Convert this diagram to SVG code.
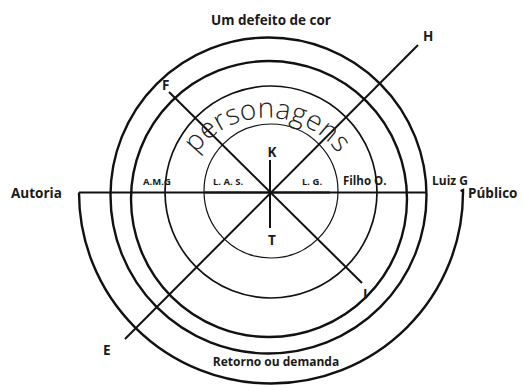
<svg xmlns="http://www.w3.org/2000/svg" width="524" height="385" viewBox="0 0 524 385">
<style>
.ring{fill:none;stroke:#111;stroke-width:2.4}
.thin{fill:none;stroke:#111;stroke-width:1.2}
.mid{fill:none;stroke:#111;stroke-width:1.7}
.ln{stroke:#111;stroke-width:2;fill:none}
.t{font-family:"Open Sans","Noto Sans","Liberation Sans",sans-serif;font-weight:700;fill:#1a1a1a}
.big{font-size:13.5px}
.sm{font-size:9.5px}
.md{font-size:11.5px}
.lt{font-size:12px}
.arc{font-family:"Open Sans","Noto Sans","Liberation Sans",sans-serif;font-weight:300;font-size:28px;fill:#222}
</style>
<defs>
<path id="pArc" d="M 180.3,190.7 A 88 88 0 0 1 353.7,190.7"/>
</defs>
<rect width="524" height="385" fill="#fff"/>
<g id="rings">
<path class="ring" d="M 79,192.5 A 192 191 0 0 0 463,192.5 L 463,190 L 460.5,191"/>
<circle class="ring" cx="268.5" cy="195.5" r="158"/>
<circle class="ring" cx="269" cy="199" r="138"/>
<circle class="mid" cx="271" cy="192" r="106"/>
<circle class="thin" cx="271" cy="191" r="67"/>
</g>
<g id="connectors">
<line class="ln" x1="79" y1="192.5" x2="427" y2="192.5"/>
<line class="ln" x1="205" y1="192.5" x2="330" y2="192.5" stroke-width="3"/>
<line class="ln" x1="169" y1="92" x2="362" y2="283"/>
<line class="ln" x1="418" y1="45" x2="125" y2="339"/>
<line class="ln" x1="270" y1="160" x2="270" y2="228"/>
</g>
<g id="title"><text class="t big" x="271" y="25" text-anchor="middle">Um defeito de cor</text></g>
<g id="autoria"><text class="t big" x="11" y="197.5">Autoria</text></g>
<g id="publico"><text class="t big" x="468" y="197.5">Público</text></g>
<g id="retorno"><text class="t lt" x="276" y="365.5" text-anchor="middle">Retorno ou demanda</text></g>
<g id="personagens"><text class="arc"><textPath href="#pArc" startOffset="50%" text-anchor="middle" textLength="165" lengthAdjust="spacing">personagens</textPath></text></g>
<g id="amg"><text class="t sm" x="143" y="185">A.M.G</text></g>
<g id="las"><text class="t sm" x="213" y="185">L. A. S.</text></g>
<g id="lg"><text class="t sm" x="302" y="185">L. G.</text></g>
<g id="filho"><text class="t md" x="343" y="184.5">Filho O.</text></g>
<g id="luiz"><text class="t lt" x="432" y="184.5">Luiz G</text></g>
<g id="F"><text class="t big" x="162" y="90">F</text></g>
<g id="H"><text class="t big" x="423" y="41">H</text></g>
<g id="E"><text class="t big" x="103" y="355">E</text></g>
<g id="I"><text class="t big" x="363" y="299">I</text></g>
<g id="K"><text class="t big" x="272" y="157" text-anchor="middle">K</text></g>
<g id="T"><text class="t big" x="272" y="245" text-anchor="middle">T</text></g>
</svg>
